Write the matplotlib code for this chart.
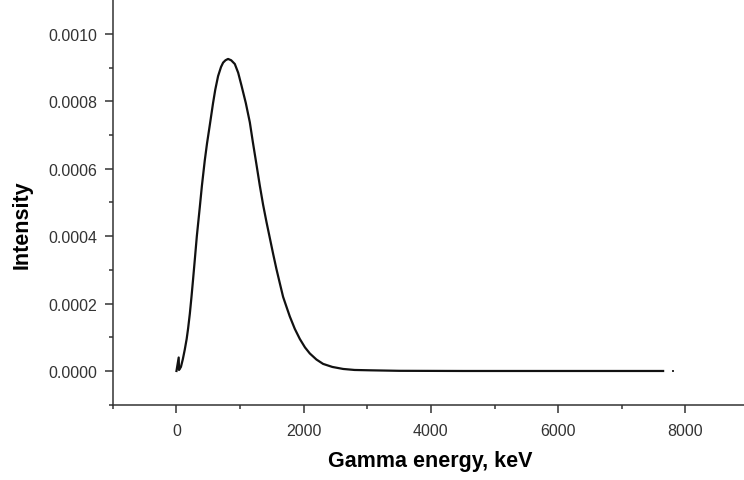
import matplotlib
matplotlib.use("Agg")
import matplotlib.pyplot as plt

plt.rcParams['font.family'] = ['Liberation Sans', 'DejaVu Sans']

# Data
energy = [0, 35, 40, 70, 100, 130, 160, 182, 210, 236, 260, 288, 320, 366, 400,
          445, 480, 524, 575, 610, 654, 700, 733, 770, 811, 860, 917, 970, 1022,
          1090, 1153, 1200, 1258, 1310, 1362, 1415, 1467, 1520, 1572, 1625, 1676,
          1730, 1781, 1860, 1939, 2020, 2096, 2200, 2305, 2450, 2620, 2800, 3040,
          3500, 4500, 5500, 6500, 7650]
intensity = [0, 4.0e-5, 3e-6, 1.2e-5, 3.5e-5, 6.3e-5, 9.5e-5, 1.25e-4, 1.7e-4,
             2.2e-4, 2.7e-4, 3.3e-4, 4.0e-4, 4.85e-4, 5.5e-4, 6.25e-4, 6.75e-4,
             7.3e-4, 7.95e-4, 8.35e-4, 8.75e-4, 9.02e-4, 9.15e-4, 9.22e-4, 9.26e-4,
             9.22e-4, 9.11e-4, 8.85e-4, 8.47e-4, 7.95e-4, 7.38e-4, 6.8e-4, 6.12e-4,
             5.5e-4, 4.93e-4, 4.42e-4, 3.95e-4, 3.47e-4, 3.02e-4, 2.6e-4, 2.2e-4,
             1.9e-4, 1.62e-4, 1.25e-4, 9.5e-5, 7.0e-5, 5.2e-5, 3.4e-5, 2.1e-5,
             1.2e-5, 6e-6, 3e-6, 2e-6, 5e-7, 0, 0, 0, 0]
dot_energy = [7810]
dot_intensity = [0]

x_major = [0, 2000, 4000, 6000, 8000]
x_minor = [-1000, 1000, 3000, 5000, 7000]
y_major = [0.0, 0.0002, 0.0004, 0.0006, 0.0008, 0.0010]
y_minor = [-0.0001, 0.0001, 0.0003, 0.0005, 0.0007, 0.0009]
y_labels = ["0.0000", "0.0002", "0.0004", "0.0006", "0.0008", "0.0010"]
x_labels = ["0", "2000", "4000", "6000", "8000"]

fig = plt.figure(figsize=(7.44, 4.81), dpi=100)
ax = fig.add_axes([0.1517, 0.1566, 0.855, 0.8407])

ax.plot(energy, intensity, color='#111111', lw=1.6, solid_joinstyle='round')
ax.plot(dot_energy, dot_intensity, 's', color='#333333', ms=1.8, mew=0)

ax.set_xlim(-1000, 9000)
ax.set_ylim(-0.0001, 0.0011)

ax.set_xticks(x_major)
ax.set_xticklabels(x_labels)
ax.set_xticks(x_minor, minor=True)
ax.set_yticks(y_major)
ax.set_yticklabels(y_labels)
ax.set_yticks(y_minor, minor=True)

for s in ['top', 'right']:
    ax.spines[s].set_visible(False)
for s in ['left', 'bottom']:
    ax.spines[s].set_color('#333333')
    ax.spines[s].set_linewidth(1.1)

ax.tick_params(which='major', direction='out', length=6, width=1.1,
               color='#333333', labelsize=11.5, labelcolor='#333333')
ax.tick_params(axis='x', which='major', pad=7)
ax.tick_params(axis='y', which='major', pad=5)
ax.tick_params(which='minor', direction='out', length=3, width=1.1, color='#333333')

ax.set_xlabel('Gamma energy, keV', fontsize=15.5, fontweight='bold')
ax.set_ylabel('Intensity', fontsize=15.5, fontweight='bold')
ax.xaxis.set_label_coords(0.499, -0.112)
ax.yaxis.set_label_coords(-0.126, 0.447)

fig.savefig('out.png', dpi=100)
